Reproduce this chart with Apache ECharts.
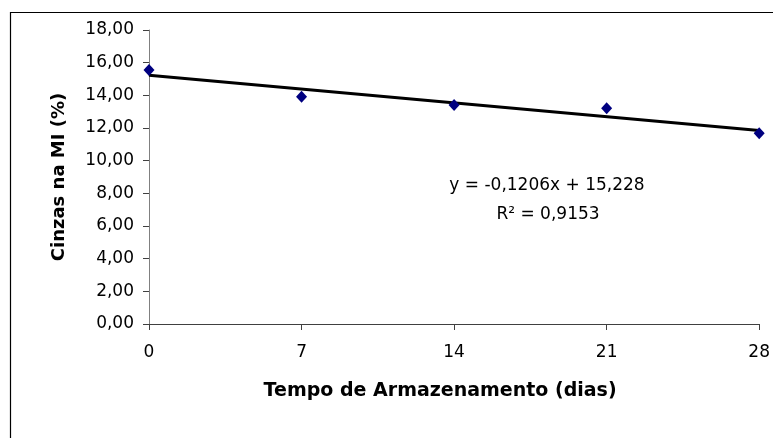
<!DOCTYPE html>
<html>
<head>
<meta charset="utf-8">
<title>Cinzas na MI</title>
<script src="https://cdn.jsdelivr.net/npm/echarts@6/dist/echarts.min.js"></script>
<style>
  html, body { margin: 0; padding: 0; background: #fff; }
  #chart { width: 773px; height: 438px; }
</style>
</head>
<body>
<div id="chart"></div>
<script>
// dados
const dias = [0, 7, 14, 21, 28];
const cinzas = [15.55, 13.92, 13.41, 13.21, 11.68];
const yTicks = [0, 2, 4, 6, 8, 10, 12, 14, 16, 18];
const xTicks = [0, 7, 14, 21, 28];

// linha de tendência (equação mostrada no gráfico)
const slope = -0.1206;
const intercept = 15.228;
const equacao = 'y = -0,1206x + 15,228';
const r2 = 'R² = 0,9153';

const trend = [dias[0], dias[dias.length - 1]].map(x => [x, intercept + slope * x]);

const fmt = v => v.toFixed(2).replace('.', ',');
const font = 'DejaVu Sans';

const chart = echarts.init(document.getElementById('chart'));

const option = {
  backgroundColor: '#fff',
  animation: false,
  grid: { left: 149, top: 30, width: 611, height: 294, containLabel: false },
  xAxis: {
    type: 'value',
    min: xTicks[0],
    max: xTicks[xTicks.length - 1],
    interval: 7,
    splitLine: { show: false },
    axisLine: { lineStyle: { color: '#404040', width: 1 } },
    axisTick: { show: true, inside: false, length: 6, lineStyle: { color: '#404040' } },
    axisLabel: { color: '#000', fontFamily: font, fontSize: 17, margin: 20 },
    name: 'Tempo de Armazenamento (dias)',
    nameLocation: 'middle',
    nameGap: 58,
    nameTextStyle: {
      color: '#000', fontFamily: font, fontWeight: 'bold', fontSize: 19,
      padding: [0, 28, 0, 0]
    }
  },
  yAxis: {
    type: 'value',
    min: yTicks[0],
    max: yTicks[yTicks.length - 1],
    interval: 2,
    splitLine: { show: false },
    axisLine: { show: true, lineStyle: { color: '#808080', width: 1 } },
    axisTick: { show: true, inside: false, length: 6, lineStyle: { color: '#404040' } },
    axisLabel: { color: '#000', fontFamily: font, fontSize: 17, margin: 15, formatter: fmt },
    name: 'Cinzas na MI (%)',
    nameLocation: 'middle',
    nameGap: 81,
    nameTextStyle: { color: '#000', fontFamily: font, fontWeight: 'bold', fontSize: 18 }
  },
  series: [
    {
      name: 'Tendência',
      type: 'line',
      data: trend,
      symbol: 'none',
      lineStyle: { color: '#000', width: 3 },
      z: 2
    },
    {
      name: 'Cinzas',
      type: 'scatter',
      data: dias.map((d, i) => [d, cinzas[i]]),
      symbol: 'diamond',
      symbolSize: [11, 12],
      itemStyle: { color: '#000080', opacity: 1 },
      z: 3
    }
  ],
  graphic: [
    {
      // moldura externa (continua além da borda da imagem)
      type: 'rect',
      shape: { x: 10.5, y: 12.5, width: 800, height: 500 },
      style: { fill: 'none', stroke: '#000', lineWidth: 1.2 },
      silent: true
    },
    {
      type: 'text',
      x: 547, y: 186,
      style: { text: equacao, font: '17px "DejaVu Sans"', fill: '#000', align: 'center', verticalAlign: 'middle' }
    },
    {
      type: 'text',
      x: 548, y: 215,
      style: { text: r2, font: '17px "DejaVu Sans"', fill: '#000', align: 'center', verticalAlign: 'middle' }
    }
  ]
};

chart.setOption(option);
</script>
</body>
</html>
